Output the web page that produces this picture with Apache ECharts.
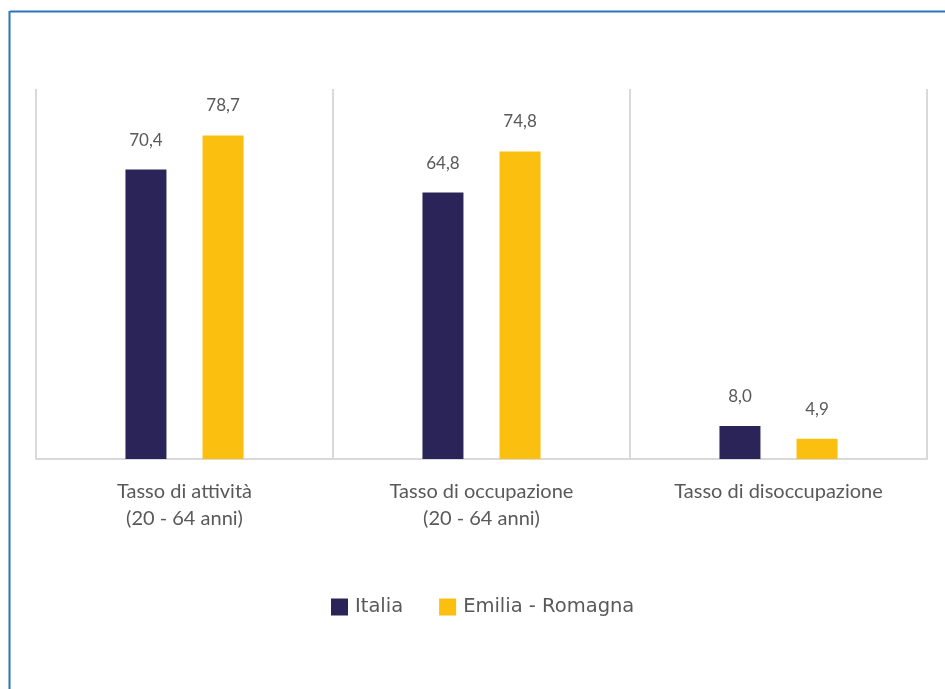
<!DOCTYPE html>
<html><head><meta charset="utf-8">
<script src="https://cdn.jsdelivr.net/npm/echarts@6/dist/echarts.min.js"></script>
<style>html,body{margin:0;padding:0;background:#fff}#c{width:945px;height:689px}</style>
</head><body><div id="c"></div>
<script>
const categories = ['Tasso di attività\n(20 - 64 anni)', 'Tasso di occupazione\n(20 - 64 anni)', 'Tasso di disoccupazione'];
const italia = [70.4, 64.8, 8.0];
const emilia = [78.7, 74.8, 4.9];
const seriesNames = ['Italia', 'Emilia - Romagna'];

const chart = echarts.init(document.getElementById('c'), null, {renderer: 'canvas'});
const fmt = p => p.value.toFixed(1).replace('.', ',');
const labelStyle = {show: true, position: 'top', distance: 21, formatter: fmt, color: '#595959', fontSize: 17, fontFamily: 'Lato'};
chart.setOption({
  animation: false,
  graphic: [
    {type: 'line', shape: {x1: 10, y1: 11.5, x2: 945, y2: 11.5}, style: {stroke: '#2e75b6', lineWidth: 2}},
    {type: 'line', shape: {x1: 9.5, y1: 11, x2: 9.5, y2: 689}, style: {stroke: '#2e75b6', lineWidth: 2}}
  ],
  grid: {left: 36, right: 18, top: 89, bottom: 230},
  legend: {
    bottom: 67, left: 326, itemWidth: 17, itemHeight: 17, itemGap: 36,
    icon: 'rect',
    textStyle: {color: '#595959', fontSize: 19.5, fontFamily: 'DejaVu Sans', padding: [0,0,0,2]},
    data: seriesNames
  },
  xAxis: {
    type: 'category', data: categories,
    axisLine: {lineStyle: {color: '#d9d9d9', width: 2}},
    axisTick: {show: false},
    splitLine: {show: true, lineStyle: {color: '#d9d9d9', width: 2}},
    axisLabel: {color: '#595959', fontSize: 20, fontFamily: 'Lato', margin: 19, lineHeight: 27, interval: 0}
  },
  yAxis: {type: 'value', min: 0, max: 90, show: false, splitLine: {show: false}},
  series: [
    {name: seriesNames[0], type: 'bar', data: italia, barWidth: 41, barGap: '88%', itemStyle: {color: '#2b2459'}, label: labelStyle},
    {name: seriesNames[1], type: 'bar', data: emilia, barWidth: 41, itemStyle: {color: '#fbbf0f'}, label: labelStyle}
  ]
});
</script></body></html>
